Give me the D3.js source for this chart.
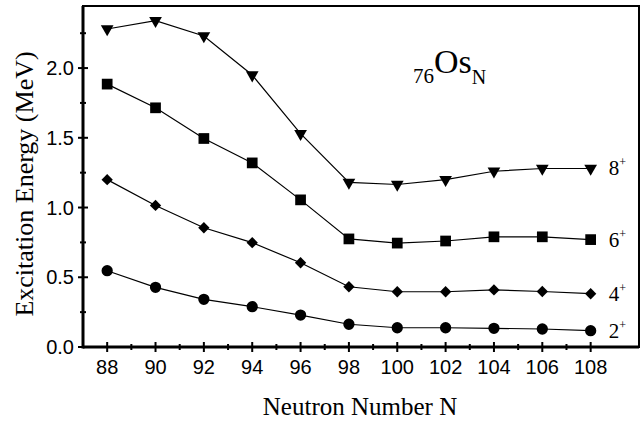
<!doctype html>
<html lang="en">
<head>
  <meta charset="utf-8">
  <title>Os excitation energies</title>
  <script src="https://d3js.org/d3.v7.min.js"></script>
  <style>
    body { margin: 0; background: #fff; }
  </style>
</head>
<body>
  <div id="chart"></div>
  <script type="text/javascript">

    var width = 642, height = 422;
    var margin = {top: 6, right: 3, bottom: 75, left: 83};

    // neutron numbers and level energies (MeV)
    var neutrons = [88, 90, 92, 94, 96, 98, 100, 102, 104, 106, 108];
    var e8 = [2.28, 2.34, 2.23, 1.95, 1.53, 1.18, 1.165, 1.20, 1.26, 1.28, 1.28];
    var e6 = [1.885, 1.715, 1.495, 1.32, 1.055, 0.775, 0.745, 0.76, 0.79, 0.79, 0.77];
    var e4 = [1.20, 1.015, 0.855, 0.748, 0.604, 0.432, 0.396, 0.396, 0.409, 0.398, 0.382];
    var e2 = [0.547, 0.428, 0.342, 0.289, 0.229, 0.163, 0.138, 0.138, 0.134, 0.129, 0.117];
    var xTicks = [88, 90, 92, 94, 96, 98, 100, 102, 104, 106, 108];
    var yTicks = [0, 0.5, 1.0, 1.5, 2.0];

    // diamond = square turned by 45 degrees
    var series = [
      {name: '8', values: e8, shape: d3.symbolTriangle, size: 70, rot: 180},
      {name: '6', values: e6, shape: d3.symbolSquare, size: 115, rot: 0},
      {name: '4', values: e4, shape: d3.symbolSquare, size: 64, rot: 45},
      {name: '2', values: e2, shape: d3.symbolCircle, size: 100, rot: 0}
    ];

    var svg = d3.select('#chart')
                .append('svg')
                .attr('width', width)
                .attr('height', height);

    var x = d3.scaleLinear()
              .domain([87, 110])
              .range([margin.left, width - margin.right]);

    var y = d3.scaleLinear()
              .domain([0, 2.445])
              .range([height - margin.bottom, margin.top]);

    // frame (top and right edges thinner)
    svg.append('rect')
       .attr('x', x(87)).attr('y', y(2.445))
       .attr('width', x(110) - x(87))
       .attr('height', y(0) - y(2.445))
       .attr('fill', 'none')
       .attr('stroke', '#000')
       .attr('stroke-width', 2);

    // minor ticks crossing the axes
    svg.append('g').selectAll('line')
       .data(d3.range(89, 109, 2))
       .enter().append('line')
       .attr('x1', function(d) { return x(d); })
       .attr('x2', function(d) { return x(d); })
       .attr('y1', y(0) - 3).attr('y2', y(0) + 3)
       .attr('stroke', '#000').attr('stroke-width', 2);

    svg.append('g').selectAll('line')
       .data([0.25, 0.75, 1.25, 1.75, 2.25])
       .enter().append('line')
       .attr('y1', function(d) { return y(d); })
       .attr('y2', function(d) { return y(d); })
       .attr('x1', x(87) - 3).attr('x2', x(87) + 3)
       .attr('stroke', '#000').attr('stroke-width', 2);

    // major ticks
    svg.append('g').selectAll('line')
       .data(xTicks)
       .enter().append('line')
       .attr('x1', function(d) { return x(d); })
       .attr('x2', function(d) { return x(d); })
       .attr('y1', y(0) - 5).attr('y2', y(0) + 5)
       .attr('stroke', '#000').attr('stroke-width', 2);

    svg.append('g').selectAll('line')
       .data(yTicks)
       .enter().append('line')
       .attr('y1', function(d) { return y(d); })
       .attr('y2', function(d) { return y(d); })
       .attr('x1', x(87) - 5).attr('x2', x(87) + 5)
       .attr('stroke', '#000').attr('stroke-width', 2);

    // thick axis lines
    svg.append('line')
       .attr('x1', x(87)).attr('x2', x(110))
       .attr('y1', y(0)).attr('y2', y(0))
       .attr('stroke', '#000').attr('stroke-width', 3);
    svg.append('line')
       .attr('x1', x(87)).attr('x2', x(87))
       .attr('y1', y(0) + 1.5).attr('y2', y(2.445))
       .attr('stroke', '#000').attr('stroke-width', 3);

    // tick labels
    svg.append('g').selectAll('text')
       .data(xTicks)
       .enter().append('text')
       .attr('x', function(d) { return x(d); })
       .attr('y', y(0) + 27)
       .attr('text-anchor', 'middle')
       .style('font-family', 'Liberation Sans, Arial, sans-serif')
       .style('font-size', '20px')
       .text(function(d) { return d; });

    svg.append('g').selectAll('text')
       .data(yTicks)
       .enter().append('text')
       .attr('x', x(87) - 9)
       .attr('y', function(d) { return y(d) + 7; })
       .attr('text-anchor', 'end')
       .style('font-family', 'Liberation Sans, Arial, sans-serif')
       .style('font-size', '20px')
       .text(function(d) { return d.toFixed(1); });

    // axis titles
    svg.append('text')
       .attr('x', 360).attr('y', 415)
       .attr('text-anchor', 'middle')
       .style('font-family', 'Liberation Serif, Times New Roman, serif')
       .style('font-size', '25px')
       .text('Neutron Number N');

    svg.append('text')
       .attr('transform', 'translate(33,184) rotate(-90)')
       .attr('text-anchor', 'middle')
       .style('font-family', 'Liberation Serif, Times New Roman, serif')
       .style('font-size', '26px')
       .text('Excitation Energy (MeV)');

    // lines and markers
    var line = d3.line()
                 .x(function(d, i) { return x(neutrons[i]); })
                 .y(function(d) { return y(d); });

    var groups = svg.selectAll('.level')
                    .data(series)
                    .enter().append('g')
                    .attr('class', 'level');

    groups.append('path')
          .attr('d', function(s) { return line(s.values); })
          .attr('fill', 'none')
          .attr('stroke', '#000')
          .attr('stroke-width', 1.2);

    groups.each(function(s) {
      var sym = d3.symbol().type(s.shape).size(s.size);
      d3.select(this).selectAll('.pt')
        .data(s.values)
        .enter().append('path')
        .attr('class', 'pt')
        .attr('d', sym)
        .attr('transform', function(d, i) {
          return 'translate(' + x(neutrons[i]) + ',' + y(d) + ') rotate(' + s.rot + ')';
        })
        .attr('fill', '#000');
    });

    // spin labels at the right end
    var spin = groups.append('text')
                     .attr('x', x(108) + 18)
                     .attr('y', function(s) { return y(s.values[s.values.length - 1]) + 7; })
                     .style('font-family', 'Liberation Serif, Times New Roman, serif')
                     .style('font-size', '21px');
    spin.append('tspan').text(function(s) { return s.name; });
    spin.append('tspan')
        .attr('dy', -9)
        .style('font-size', '12px')
        .text('+');

    // nucleus label
    var nuc = svg.append('text')
                 .attr('x', 413).attr('y', 73)
                 .style('font-family', 'Liberation Serif, Times New Roman, serif');
    nuc.append('tspan').attr('dy', 10).style('font-size', '21px').text('76');
    nuc.append('tspan').attr('dy', -10).style('font-size', '34px').text('Os');
    nuc.append('tspan').attr('dy', 11).style('font-size', '20px').text('N');

  </script>
</body>
</html>
